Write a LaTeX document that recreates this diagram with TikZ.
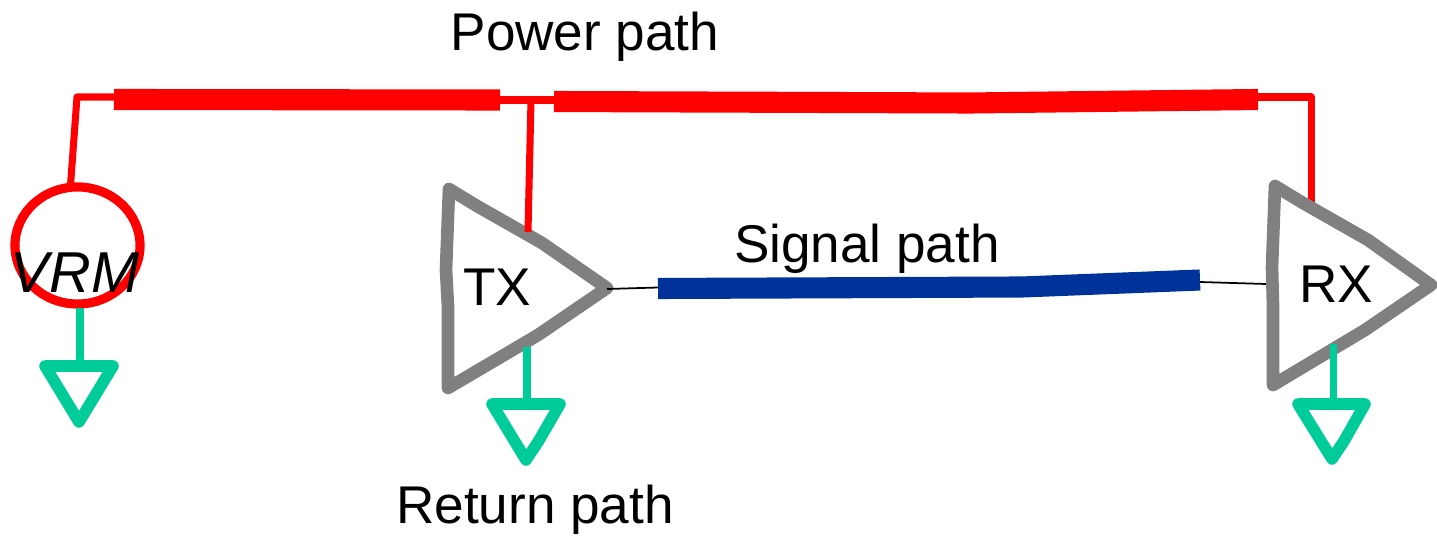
\documentclass[tikz,border=0pt]{standalone}
\usepackage{fontspec}
\usetikzlibrary{shapes.geometric}
\setmainfont{Liberation Sans}
\definecolor{pathred}{HTML}{FF0000}
\definecolor{pathgreen}{HTML}{00CC99}
\definecolor{pathblue}{HTML}{003399}
\definecolor{bufgray}{HTML}{808080}
\tikzset{
    label text/.style = {font = \fontsize{15.1}{18}\selectfont, inner sep = 0pt},
    power thin/.style = {draw = pathred, line width = 2pt, line join = round},
    power thick/.style = {draw = pathred, line width = 6pt},
    ground wire/.style = {draw = pathgreen, line width = 2pt},
    ground sign/.style = {draw = pathgreen, line width = 3.3pt, line join = round},
    buffer/.style = {draw = bufgray, line width = 3.6pt, line join = round}
}
\begin{document}
\begin{tikzpicture}[x = 0.01cm, y = -0.01cm]
        \useasboundingbox (0, 0) rectangle (1437, 537);

        % Nodes
        \node [draw = pathred, line width = 2.6pt, ellipse, minimum width = 1.25cm, minimum height = 1.17cm, inner sep = 0pt, outer sep = 0pt] (vrm) at (77.5, 245.5) {};
        \node [label text, font = \fontsize{16.4}{18}\selectfont\itshape] (vrmtext) at (75, 273) {VRM};
        \node [label text] (txtext) at (497, 287) {TX};
        \node [label text] (rxtext) at (1336, 284) {RX};
        \node [label text] (powertext) at (585, 37) {Power path};
        \node [label text] (signaltext) at (867, 249) {Signal path};
        \node [label text] (returntext) at (535, 510) {Return path};

        % Connector ends
        \coordinate (vrmcorner) at (77, 97);
        \coordinate (p1w) at (114, 97);
        \coordinate (p1a) at (114, 99.5);
        \coordinate (p1b) at (500, 100);
        \coordinate (p2a) at (554, 100);
        \coordinate (p2s) at (554, 101.5);
        \coordinate (p2m) at (970, 103);
        \coordinate (p2b) at (1258, 99.5);
        \coordinate (tee) at (531, 100);
        \coordinate (txpower) at (528, 232);
        \coordinate (rxcorner) at (1311, 97);
        \coordinate (rxpower) at (1311, 205);
        \coordinate (txout) at (607, 289);
        \coordinate (txwire) at (658, 287.5);
        \coordinate (s1a) at (658, 288.5);
        \coordinate (s1m) at (1022, 287);
        \coordinate (s1b) at (1200, 280);
        \coordinate (rxwire) at (1200, 282);
        \coordinate (rxin) at (1266, 284);
        \coordinate (vrmgnd) at (80, 362);
        \coordinate (txbot) at (527, 347);
        \coordinate (txgnd) at (527, 402);
        \coordinate (rxbot) at (1333, 344);
        \coordinate (rxgnd) at (1333, 402);

        % Buffer TX
        \draw [buffer] (449, 189) -- (477, 206) -- (542, 243) -- (607, 288) -- (538, 335) -- (448, 388) -- (448, 307) -- (446, 270) -- cycle;

        % Power path
        \draw [power thin] (vrm.97) -- (vrmcorner) -- (p1w);
        \draw [power thin] (p1b) -- (p2a);
        \draw [power thin] (tee) -- (txpower);
        \draw [power thin] (p2b |- rxcorner) -- (rxcorner) -- (rxpower);
        \draw [power thick] (p1a) -- (p1b);
        \draw [power thick] (p2s) -- (p2m) -- (p2b);

        % Buffer RX
        \draw [buffer] (1275, 186) -- (1303, 203) -- (1368, 240) -- (1431, 285) -- (1365, 330) -- (1273, 385) -- (1273, 307) -- (1272, 267) -- cycle;

        % Signal path
        \draw [line width = 0.5pt] (txout) -- (txwire);
        \draw [line width = 0.5pt] (rxwire) -- (rxin);
        \draw [draw = pathblue, line width = 6pt] (s1a) -- (s1m) -- (s1b);

        % Return path
        \draw [ground wire, shorten <= 1.2pt] (vrm.south -| vrmgnd) -- (vrmgnd);
        \draw [ground wire] (txbot) -- (txgnd);
        \draw [ground wire] (rxbot) -- (rxgnd);
        \draw [ground sign] (45, 366) -- (113, 366) -- (79, 422) -- cycle;
        \draw [ground sign] (492, 404) -- (560, 404) -- (538, 442) -- (526, 460) -- cycle;
        \draw [ground sign] (1298, 404) -- (1365, 404) -- (1344, 441) -- (1332, 459) -- cycle;

    \end{tikzpicture}
\end{document}
